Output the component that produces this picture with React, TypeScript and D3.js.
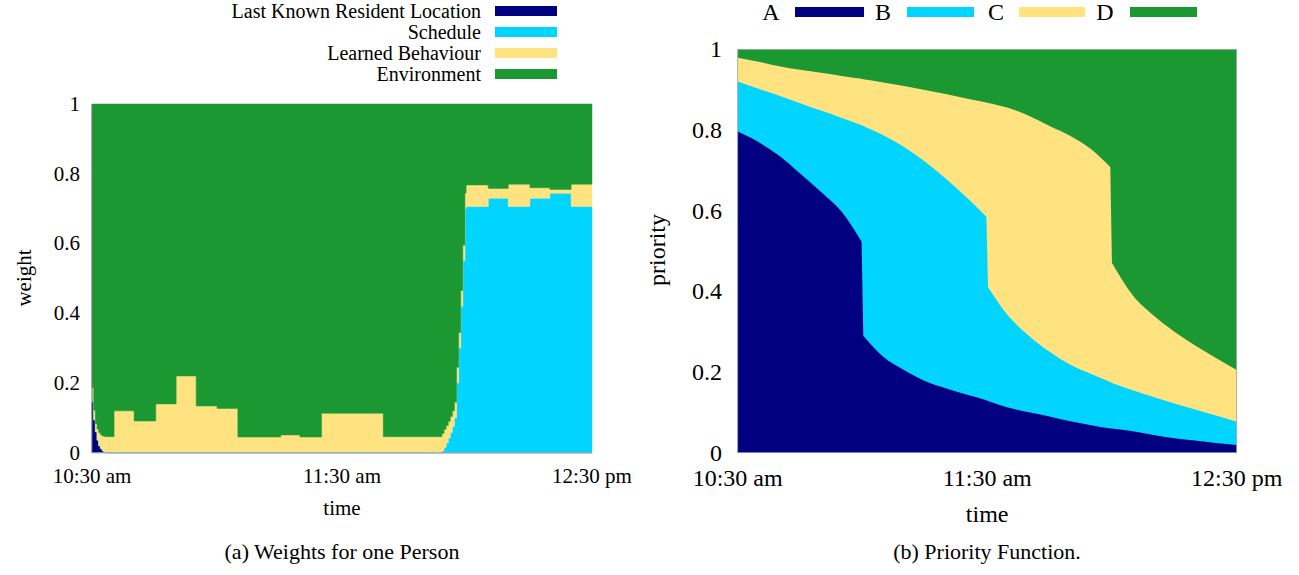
import React from "react";
import * as d3 from "d3";

// ---------- Left chart: Weights for one Person ----------
const leftMinutes = [0, 0.4, 0.8, 1.2, 1.6, 2.0, 2.4, 2.8, 3.2, 5.3, 10.1, 15.3, 20.2, 25.0, 30.0, 35.0, 45.3, 49.9, 55.1, 69.9, 83.5, 84.0, 84.5, 85.0, 85.5, 86.0, 86.5, 87.0, 87.5, 88.0, 88.5, 89.0, 89.5, 89.8, 95.1, 99.9, 105.1, 109.9, 115.0, 120];
const lastKnown = [0.146, 0.094, 0.06, 0.036, 0.02, 0.012, 0.006, 0.002, 0, 0, 0, 0, 0, 0, 0, 0, 0, 0, 0, 0, 0, 0, 0, 0, 0, 0, 0, 0, 0, 0, 0, 0, 0, 0, 0, 0, 0, 0, 0, 0];
const schedule = [0, 0, 0, 0, 0, 0, 0, 0, 0, 0, 0, 0, 0, 0, 0, 0, 0, 0, 0, 0, 0, 0.005, 0.015, 0.028, 0.042, 0.058, 0.075, 0.1, 0.2, 0.3, 0.42, 0.55, 0.7, 0.706, 0.73, 0.706, 0.73, 0.744, 0.706, 0.706];
const learned = [0.04, 0.028, 0.024, 0.032, 0.038, 0.04, 0.042, 0.045, 0.046, 0.12, 0.091, 0.14, 0.22, 0.134, 0.127, 0.045, 0.051, 0.045, 0.113, 0.046, 0.046, 0.05, 0.052, 0.05, 0.048, 0.046, 0.045, 0.045, 0.045, 0.045, 0.045, 0.045, 0.045, 0.062, 0.028, 0.064, 0.03, 0.011, 0.064, 0.064];
const leftSeries = ["Last Known Resident Location", "Schedule", "Learned Behaviour", "Environment"];

// ---------- Right chart: Priority Function ----------
const rightMinutes = [0, 5, 10, 15, 20, 25, 29.8, 30.2, 35, 40, 45, 50, 55, 59.8, 60.2, 65, 70, 75, 80, 85, 89.6, 90, 95, 100, 105, 110, 115, 120];
const upperA = [0.796, 0.77, 0.736, 0.692, 0.647, 0.597, 0.523, 0.29, 0.238, 0.205, 0.178, 0.16, 0.144, 0.13, 0.128, 0.112, 0.1, 0.09, 0.078, 0.068, 0.06, 0.06, 0.053, 0.044, 0.036, 0.03, 0.024, 0.019];
const upperB = [0.92, 0.902, 0.885, 0.866, 0.848, 0.83, 0.812, 0.81, 0.787, 0.758, 0.722, 0.68, 0.633, 0.585, 0.41, 0.34, 0.29, 0.25, 0.218, 0.195, 0.175, 0.173, 0.155, 0.138, 0.122, 0.107, 0.092, 0.077];
const upperC = [0.979, 0.969, 0.958, 0.949, 0.942, 0.934, 0.927, 0.926, 0.918, 0.909, 0.899, 0.889, 0.878, 0.868, 0.867, 0.855, 0.835, 0.81, 0.785, 0.752, 0.708, 0.47, 0.39, 0.34, 0.3, 0.266, 0.235, 0.205];
const upperD = [1, 1, 1, 1, 1, 1, 1, 1, 1, 1, 1, 1, 1, 1, 1, 1, 1, 1, 1, 1, 1, 1, 1, 1, 1, 1, 1, 1];
const rightSeries = ["A", "B", "C", "D"];
// index ranges of the smooth pieces between the jumps
const rightSegments = [[0, 6], [7, 13], [14, 20], [21, 27]];

const timeTicks = [0, 60, 120];
const leftTimeLabels = ["10:30 am", "11:30 am", "12:30 pm"];
const rightTimeLabels = ["10:30 am", "11:30 am", "12:30 pm"];
const yTicks = [0, 0.2, 0.4, 0.6, 0.8, 1];

const COLORS = ["#000080", "#00d4ff", "#ffe380", "#1c9833"];
const FONT = '"Liberation Serif", "Times New Roman", Times, serif';

export default function App() {
  const xL = d3.scaleLinear().domain([0, 120]).range([92, 592]);
  const yL = d3.scaleLinear().domain([0, 1]).range([452.7, 104]);
  const xR = d3.scaleLinear().domain([0, 120]).range([737.7, 1236.7]);
  const yR = d3.scaleLinear().domain([0, 1]).range([452.7, 49.3]);

  const rows = leftMinutes.map((t, i) => ({ t, lk: lastKnown[i], sc: schedule[i], lb: learned[i] }));
  const stacked = d3.stack<any>().keys(["lk", "sc", "lb"])(rows);
  const leftArea = d3
    .area<any>()
    .curve(d3.curveStepAfter)
    .x((d) => xL(d.data.t))
    .y0((d) => yL(d[0]))
    .y1((d) => yL(d[1]));
  const envArea = d3
    .area<any>()
    .curve(d3.curveStepAfter)
    .x((d) => xL(d.data.t))
    .y0((d) => yL(d[1]))
    .y1(() => yL(1));
  const topLayer = stacked[stacked.length - 1];

  // Right chart: each series painted from 0 up to its cumulative upper boundary,
  // top series first, so the lower ones cover them.
  const lineGen = d3
    .line<[number, number]>()
    .curve(d3.curveMonotoneX)
    .x((d) => xR(d[0]))
    .y((d) => yR(d[1]));
  const boundaryPath = (upper: number[]) => {
    let s = "";
    rightSegments.forEach(([a, b], si) => {
      const pts = rightMinutes.slice(a, b + 1).map((t, j) => [t, upper[a + j]] as [number, number]);
      const p = lineGen(pts) || "";
      s += si === 0 ? p : "L" + p.slice(1);
    });
    s += `L${xR(120)},${yR(0)}L${xR(0)},${yR(0)}Z`;
    return s;
  };
  const uppers = [upperA, upperB, upperC, upperD];
  const rightPaths = [3, 2, 1, 0].map((k) => ({ d: boundaryPath(uppers[k]), c: COLORS[k] }));

  const leftLegendY = [11, 32, 53, 74];
  const rightLegend = [
    { lx: 771, sx: 795, sw: 69 },
    { lx: 883, sx: 907, sw: 67 },
    { lx: 996, sx: 1019, sw: 66 },
    { lx: 1105, sx: 1130, sw: 67 },
  ];

  return (
    <svg
      width={1299}
      height={575}
      style={{ position: "absolute", left: 0, top: 0, background: "#fff", fontFamily: FONT }}
    >
      {/* ===== Left chart ===== */}
      <g>
        {stacked.map((layer, i) => (
          <path key={i} d={leftArea(layer) || ""} fill={COLORS[i]} stroke={COLORS[i]} strokeWidth={0.5} />
        ))}
        <path d={envArea(topLayer) || ""} fill={COLORS[3]} stroke={COLORS[3]} strokeWidth={0.5} />
        <line x1={xL(0)} x2={xL(0)} y1={yL(0)} y2={yL(1)} stroke="#777" strokeWidth={1} />
        <line x1={xL(0)} x2={xL(120)} y1={yL(0)} y2={yL(0)} stroke="#9aa" strokeWidth={1} />
        {yTicks.map((v) => (
          <text key={v} x={80} y={yL(v)} textAnchor="end" dominantBaseline="central" fontSize={21}>
            {String(v)}
          </text>
        ))}
        {timeTicks.map((t, i) => (
          <text key={t} x={xL(t)} y={476} textAnchor="middle" dominantBaseline="central" fontSize={21}>
            {leftTimeLabels[i]}
          </text>
        ))}
        <text x={xL(60)} y={508} textAnchor="middle" dominantBaseline="central" fontSize={21}>
          time
        </text>
        <text transform={`translate(24,278) rotate(-90)`} textAnchor="middle" dominantBaseline="central" fontSize={21}>
          weight
        </text>
        <text x={342} y={551} textAnchor="middle" dominantBaseline="central" fontSize={22}>
          (a) Weights for one Person
        </text>
        {leftSeries.map((s, i) => (
          <g key={s}>
            <text x={481} y={leftLegendY[i]} textAnchor="end" dominantBaseline="central" fontSize={20}>
              {s}
            </text>
            <rect x={495} y={leftLegendY[i] - 5} width={62} height={10} fill={COLORS[i]} />
          </g>
        ))}
      </g>

      {/* ===== Right chart ===== */}
      <g>
        {rightPaths.map((p, i) => (
          <path key={i} d={p.d} fill={p.c} />
        ))}
        <rect x={xR(0)} y={yR(1)} width={xR(120) - xR(0)} height={yR(0) - yR(1)} fill="none" stroke="#aaa" strokeWidth={0.8} />
        {yTicks.map((v) => (
          <text key={v} x={722} y={yR(v)} textAnchor="end" dominantBaseline="central" fontSize={24}>
            {String(v)}
          </text>
        ))}
        {timeTicks.map((t, i) => (
          <text key={t} x={xR(t)} y={478} textAnchor="middle" dominantBaseline="central" fontSize={24}>
            {rightTimeLabels[i]}
          </text>
        ))}
        <text x={xR(60)} y={514} textAnchor="middle" dominantBaseline="central" fontSize={24}>
          time
        </text>
        <text transform={`translate(657,250) rotate(-90)`} textAnchor="middle" dominantBaseline="central" fontSize={24}>
          priority
        </text>
        <text x={987} y={551} textAnchor="middle" dominantBaseline="central" fontSize={22}>
          (b) Priority Function.
        </text>
        {rightSeries.map((s, i) => (
          <g key={s}>
            <text x={rightLegend[i].lx} y={12} textAnchor="middle" dominantBaseline="central" fontSize={24}>
              {s}
            </text>
            <rect x={rightLegend[i].sx} y={7} width={rightLegend[i].sw} height={10} fill={COLORS[i]} />
          </g>
        ))}
      </g>
    </svg>
  );
}
